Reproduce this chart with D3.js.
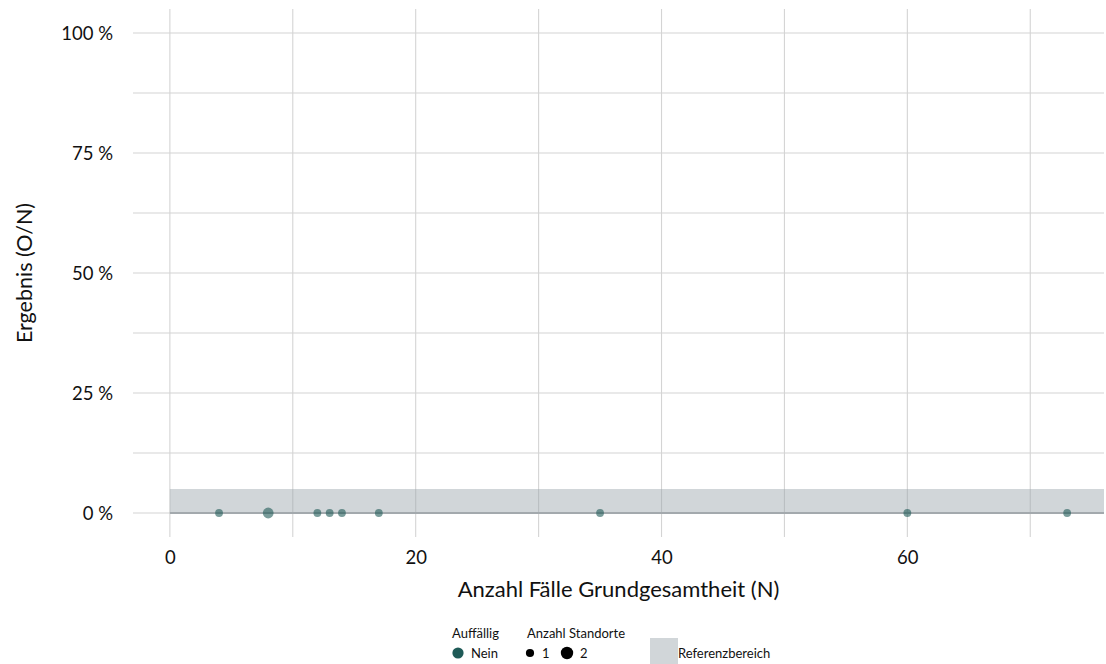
<!DOCTYPE html>
<html>
<head>
<meta charset="utf-8">
<script src="https://cdn.jsdelivr.net/npm/d3@7"></script>
<style>
  html, body { margin: 0; padding: 0; background: #fff; }
  svg { display: block; font-family: Lato, "Open Sans", sans-serif; }
</style>
</head>
<body>
<svg id="chart" width="1106" height="664"></svg>
<script>
// ---- data ----
const fallzahlN   = [4, 8, 12, 13, 14, 17, 35, 60, 73];
const ergebnis    = [0, 0, 0, 0, 0, 0, 0, 0, 0];
const standorte   = [1, 2, 1, 1, 1, 1, 1, 1, 1];
const auffaellig  = ["Nein","Nein","Nein","Nein","Nein","Nein","Nein","Nein","Nein"];
const xTicks      = [0, 20, 40, 60];
const xMinor      = [10, 30, 50, 70];
const yTicks      = [0, 0.25, 0.5, 0.75, 1];
const yMinor      = [0.125, 0.375, 0.625, 0.875];
const referenz    = [0, 0.05];   // Referenzbereich 0 % - 5 %

// ---- layout ----
const svg = d3.select("#chart");
const panel = { left: 133, right: 1104, top: 9, bottom: 537 };

const x = d3.scaleLinear().domain([-3, 76]).range([panel.left, panel.right]);
const y = d3.scaleLinear().domain([-0.05, 1.05]).range([panel.bottom, panel.top]);
const r = d3.scaleOrdinal().domain([1, 2]).range([3.9, 5.4]);
const col = d3.scaleOrdinal().domain(["Nein"]).range(["#1f5a57"]);

const gridColor = "#d4d4d4";

// grid
const g = svg.append("g");
g.selectAll("line.vx").data(xMinor.concat(xTicks)).enter().append("line")
  .attr("x1", d => x(d)).attr("x2", d => x(d))
  .attr("y1", panel.top).attr("y2", panel.bottom)
  .attr("stroke", gridColor).attr("stroke-width", 1.1);
g.selectAll("line.hy").data(yMinor.concat(yTicks)).enter().append("line")
  .attr("x1", panel.left).attr("x2", panel.right)
  .attr("y1", d => y(d)).attr("y2", d => y(d))
  .attr("stroke", gridColor).attr("stroke-width", 1.1);

// reference band
svg.append("rect")
  .attr("x", x(0)).attr("width", panel.right - x(0))
  .attr("y", y(referenz[1])).attr("height", y(referenz[0]) - y(referenz[1]))
  .attr("fill", "#9aa5ab").attr("fill-opacity", 0.45);
svg.append("line")
  .attr("x1", x(0)).attr("x2", panel.right)
  .attr("y1", y(referenz[0])).attr("y2", y(referenz[0]))
  .attr("stroke", "#a3a9ad").attr("stroke-width", 1.8);

// points
svg.append("g").selectAll("circle").data(fallzahlN.map((n, i) => ({n, e: ergebnis[i], s: standorte[i], a: auffaellig[i]})))
  .enter().append("circle")
  .attr("cx", d => x(d.n)).attr("cy", d => y(d.e)).attr("r", d => r(d.s))
  .attr("fill", d => col(d.a)).attr("fill-opacity", 0.6);

// axes (ticks only labels)
const xAxis = d3.axisBottom(x).tickValues(xTicks).tickSize(0).tickPadding(0).tickFormat(d3.format("d"));
const xg = svg.append("g").attr("transform", `translate(0,${panel.bottom})`).call(xAxis);
xg.select(".domain").remove();
xg.selectAll("text").attr("dy", null).attr("y", 27).attr("font-size", 18.5).attr("fill", "#111")
  .attr("font-family", "Lato, sans-serif");

const yAxis = d3.axisLeft(y).tickValues(yTicks).tickSize(0).tickPadding(0).tickFormat(d => d3.format("d")(d * 100) + " %");
const yg = svg.append("g").attr("transform", `translate(${panel.left - 20},0)`).call(yAxis);
yg.select(".domain").remove();
yg.selectAll("text").attr("dy", "0.36em").attr("font-size", 18.5).attr("fill", "#111")
  .attr("font-family", "Lato, sans-serif");

// axis titles
svg.append("text").attr("x", (panel.left + panel.right) / 2).attr("y", 597)
  .attr("text-anchor", "middle").attr("font-size", 22).attr("fill", "#111")
  .text("Anzahl Fälle Grundgesamtheit (N)");
svg.append("text").attr("transform", `translate(32,${(panel.top + panel.bottom) / 2}) rotate(-90)`)
  .attr("text-anchor", "middle").attr("font-size", 21.5).attr("fill", "#111")
  .text("Ergebnis (O/N)");

// legend
const lg = svg.append("g").attr("font-size", 13).attr("fill", "#111");
lg.append("text").attr("x", 452).attr("y", 638).text("Auffällig");
lg.append("circle").attr("cx", 458).attr("cy", 653).attr("r", 5.6).attr("fill", col("Nein"));
lg.append("text").attr("x", 471).attr("y", 658).text("Nein");

lg.append("text").attr("x", 527).attr("y", 638).text("Anzahl Standorte");
const sizes = [1, 2];
const sx = [530, 567];
sizes.forEach((s, i) => {
  lg.append("circle").attr("cx", sx[i]).attr("cy", 653).attr("r", s === 1 ? 4.1 : 6.2).attr("fill", "#000");
  lg.append("text").attr("x", sx[i] + (s === 1 ? 12 : 13)).attr("y", 658).text(String(s));
});

lg.append("rect").attr("x", 650).attr("y", 638).attr("width", 28).attr("height", 28)
  .attr("fill", "#9aa5ab").attr("fill-opacity", 0.45);
lg.append("text").attr("x", 678).attr("y", 658).text("Referenzbereich");
</script>
</body>
</html>
